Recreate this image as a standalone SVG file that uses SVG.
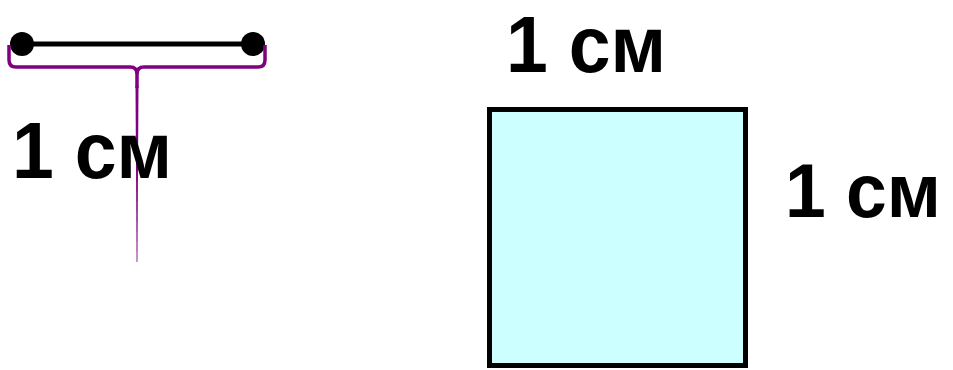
<svg xmlns="http://www.w3.org/2000/svg" width="953" height="370" viewBox="0 0 953 370">
<style>
.lbl{font-family:"Liberation Sans","DejaVu Sans",sans-serif;font-weight:bold;font-size:80px;fill:#000}
.brace{fill:none;stroke:#800080;stroke-width:3.5;stroke-linejoin:round}
</style>
<rect width="953" height="370" fill="#fff"/>
<g id="segment">
<line x1="22" y1="44" x2="253" y2="44" stroke="#000" stroke-width="5"/>
<circle cx="22" cy="44" r="12" fill="#000"/>
<circle cx="253" cy="44" r="12" fill="#000"/>
</g>
<g id="brace">
<path class="brace" d="M9,45 V60 Q9,67 16,67 H130 Q137,67 137,74 V88"/>
<path class="brace" d="M265,45 V60 Q265,67 258,67 H144 Q137,67 137,74"/>
<path d="M135.5,86 L138.5,86 L137.4,262 L136.6,262 Z" fill="#800080"/>
</g>
<g id="label-left"><text class="lbl" x="12" y="178" textLength="160" lengthAdjust="spacingAndGlyphs">1 см</text></g>
<g id="square"><rect x="489.5" y="109.5" width="256" height="256" fill="#CCFFFF" stroke="#000" stroke-width="5"/></g>
<g id="label-top"><text class="lbl" x="506" y="72" textLength="160" lengthAdjust="spacingAndGlyphs">1 см</text></g>
<g id="label-right"><text class="lbl" x="785" y="217" style="font-size:76px" textLength="156" lengthAdjust="spacingAndGlyphs">1 см</text></g>
</svg>
